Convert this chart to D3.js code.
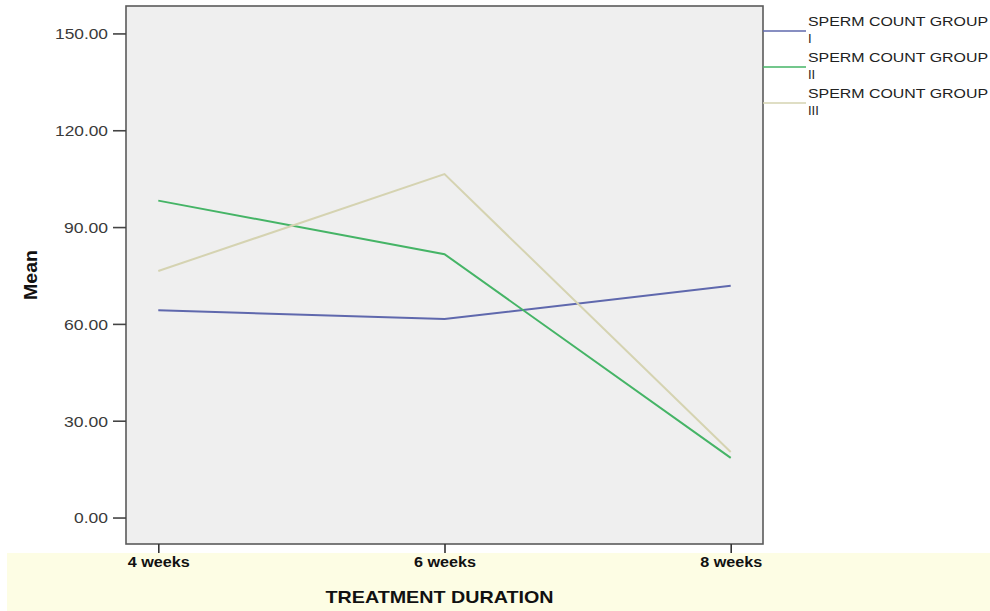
<!DOCTYPE html>
<html>
<head>
<meta charset="utf-8">
<script src="https://cdn.jsdelivr.net/npm/d3@7"></script>
<style>
  html, body { margin: 0; padding: 0; background: #ffffff; }
  svg { display: block; font-family: "Liberation Sans", Arial, sans-serif; }
</style>
</head>
<body>
<svg id="chart" width="990" height="611"></svg>
<script>
const categories = ["4 weeks", "6 weeks", "8 weeks"];
const seriesNames = ["SPERM COUNT GROUP I", "SPERM COUNT GROUP II", "SPERM COUNT GROUP III"];
const legendLine1 = ["SPERM COUNT GROUP", "SPERM COUNT GROUP", "SPERM COUNT GROUP"];
const legendLine2 = ["I", "II", "III"];
const groupI = [64.2, 61.5, 71.8];
const groupII = [98.2, 81.6, 18.5];
const groupIII = [76.4, 106.4, 20.3];
const yTicks = [0, 30, 60, 90, 120, 150];
const colors = ["#5f68ad", "#45b466", "#d5d3b1"];

const svg = d3.select("#chart");
const pLeft = 126, pRight = 763, pTop = 6, pBottom = 544;

// bottom yellow band
svg.append("rect").attr("x", 7).attr("y", 553).attr("width", 983).attr("height", 58)
  .attr("fill", "#fdfde4");

const x = d3.scalePoint().domain(categories).range([pLeft, pRight]).padding(0.1128);
const y = d3.scaleLinear().domain([-8.2, 158.5]).range([pBottom, pTop]);

// plot background
svg.append("rect").attr("x", pLeft).attr("y", pTop).attr("width", pRight - pLeft).attr("height", pBottom - pTop)
  .attr("fill", "#efefef");

// lines
const allSeries = [groupI, groupII, groupIII];
const line = d3.line().x((d, i) => x(categories[i])).y(d => y(d));
svg.append("g").selectAll("path").data(allSeries).join("path")
  .attr("d", d => line(d))
  .attr("fill", "none")
  .attr("stroke", (d, i) => colors[i])
  .attr("stroke-width", 2);

// frame
svg.append("rect").attr("x", pLeft).attr("y", pTop).attr("width", pRight - pLeft).attr("height", pBottom - pTop)
  .attr("fill", "none").attr("stroke", "#5a5a5a").attr("stroke-width", 1.6);

// y axis
const yAxis = svg.append("g").attr("transform", `translate(${pLeft},0)`)
  .call(d3.axisLeft(y).tickValues(yTicks).tickFormat(d3.format(".2f")).tickSize(13).tickPadding(5));
yAxis.select(".domain").remove();
yAxis.selectAll(".tick line").attr("stroke", "#444").attr("stroke-width", 1.6);
yAxis.selectAll(".tick text").attr("fill", "#3a3a3a").attr("font-size", 15)
  .attr("font-family", "Liberation Sans, Arial, sans-serif")
  .attr("textLength", d => d >= 100 ? 53 : (d >= 10 ? 44 : 34)).attr("lengthAdjust", "spacingAndGlyphs")
  .attr("dy", "0.36em");

// x axis
const xAxis = svg.append("g").attr("transform", `translate(0,${pBottom})`)
  .call(d3.axisBottom(x).tickSize(9).tickPadding(4));
xAxis.select(".domain").remove();
xAxis.selectAll(".tick line").attr("stroke", "#333").attr("stroke-width", 1.6);
xAxis.selectAll(".tick text").attr("fill", "#111").attr("font-size", 14).attr("font-weight", "bold")
  .attr("font-family", "Liberation Sans, Arial, sans-serif")
  .attr("textLength", 62).attr("lengthAdjust", "spacingAndGlyphs");

// axis titles
svg.append("text").attr("x", (pLeft + pRight) / 2 - 5).attr("y", 603)
  .attr("text-anchor", "middle").attr("font-size", 17).attr("font-weight", "bold").attr("fill", "#111")
  .attr("textLength", 228).attr("lengthAdjust", "spacingAndGlyphs")
  .text("TREATMENT DURATION");
svg.append("text").attr("transform", "translate(37,275) rotate(-90)")
  .attr("text-anchor", "middle").attr("font-size", 18).attr("font-weight", "bold").attr("fill", "#111")
  .attr("textLength", 50).attr("lengthAdjust", "spacingAndGlyphs")
  .text("Mean");

// legend
const legend = svg.append("g").selectAll("g").data(seriesNames).join("g")
  .attr("transform", (d, i) => `translate(0,${31 + i * 36})`);
legend.append("line").attr("x1", pRight).attr("x2", 806).attr("y1", 0).attr("y2", 0)
  .attr("stroke", (d, i) => colors[i]).attr("stroke-width", 1.6);
legend.append("text").attr("x", 808).attr("y", -5).attr("font-size", 13.5).attr("fill", "#222")
  .attr("textLength", 180).attr("lengthAdjust", "spacingAndGlyphs")
  .text((d, i) => legendLine1[i]);
legend.append("text").attr("x", 808).attr("y", 12).attr("font-size", 13).attr("fill", "#222")
  .text((d, i) => legendLine2[i]);
</script>
</body>
</html>
